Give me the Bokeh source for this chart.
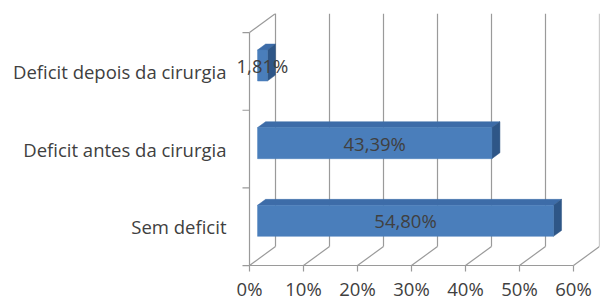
from bokeh.plotting import figure
from bokeh.models import Range1d, FixedTicker, PrintfTickFormatter, ColumnDataSource, LabelSet
from bokeh.core.properties import value
from bokeh.embed import file_html
from bokeh.resources import INLINE

# ---- data ----
categories = ["Sem deficit", "Deficit antes da cirurgia", "Deficit depois da cirurgia"]
values = [54.80, 43.39, 1.81]
value_labels = ["54,80%", "43,39%", "1,81%"]
x_ticks = [0, 10, 20, 30, 40, 50, 60]

# ---- 3D geometry (style) ----
XL = 3.89      # empty room left of the wall (percent units)
DX = 4.815     # depth offset in x (percent units)
DY = 0.2457    # depth offset in y (category units)
YB = 0.45      # room below the floor for the x labels (category units)
TK = 1.3       # category tick length (percent units)
F0, F1 = 0.31, 0.62   # bar front / back depth fraction
H = 0.2               # half bar height (category units)
FONT = "Open Sans"
FS = "18.5px"
TXT = "#404040"
GRID = "#9a9a9a"

n = len(categories)
p = figure(width=603, height=300, output_backend="svg", toolbar_location=None, title=None,
           x_range=Range1d(-XL, x_ticks[-1] + DX), y_range=Range1d(-YB, n + DY),
           min_border_left=228, min_border_right=4, min_border_top=13, min_border_bottom=0)
p.outline_line_color = None
p.xgrid.visible = False
p.ygrid.visible = False

# walls and floor
floor_x0 = [t for t in x_ticks]
floor_y0 = [0] * len(x_ticks)
floor_x1 = [t + DX for t in x_ticks]
floor_y1 = [DY] * len(x_ticks)
p.segment(floor_x0, floor_y0, floor_x1, floor_y1, line_color=GRID, line_width=1.2)
p.segment(floor_x1, floor_y1, floor_x1, [n + DY] * len(x_ticks), line_color=GRID, line_width=1.2)
p.segment([0], [n], [DX], [n + DY], line_color=GRID, line_width=1.2)
# front wall edge with category ticks
p.segment([0], [0], [0], [n], line_color=GRID, line_width=1.2)
bounds_y = list(range(n + 1))
p.segment([-TK] * len(bounds_y), bounds_y, [0] * len(bounds_y), bounds_y,
          line_color=GRID, line_width=1.2)

# bars
front_xs, front_ys, top_xs, top_ys, side_xs, side_ys = [], [], [], [], [], []
lx, ly = [], []
for i, v in enumerate(values):
    c = i + 0.5
    yb, yt = c - H, c + H
    ox0, oy0 = DX * F0, DY * F0
    ox1, oy1 = DX * F1, DY * F1
    front_xs.append([ox0, ox0 + v, ox0 + v, ox0])
    front_ys.append([yb + oy0, yb + oy0, yt + oy0, yt + oy0])
    top_xs.append([ox0, ox0 + v, ox1 + v, ox1])
    top_ys.append([yt + oy0, yt + oy0, yt + oy1, yt + oy1])
    side_xs.append([ox0 + v, ox1 + v, ox1 + v, ox0 + v])
    side_ys.append([yb + oy0, yb + oy1, yt + oy1, yt + oy0])
    lx.append(ox0 + v / 2)
    ly.append(c + oy0)

p.patches(top_xs, top_ys, fill_color="#3d6ca8", line_color="#3d6ca8", line_width=0.5)
p.patches(side_xs, side_ys, fill_color="#2e5687", line_color="#2e5687", line_width=0.5)
p.patches(front_xs, front_ys, fill_color="#4a7ebb", line_color="#4a7ebb", line_width=0.5)

src = ColumnDataSource(dict(x=lx, y=ly, t=value_labels))
p.add_layout(LabelSet(x="x", y="y", text="t", source=src, text_align="center",
                      text_baseline="middle", text_color=TXT, text_font=value(FONT),
                      text_font_size=FS))

# x axis drawn on the floor's front edge
xa = p.xaxis[0]
xa.fixed_location = 0
xa.ticker = FixedTicker(ticks=x_ticks)
xa.bounds = (x_ticks[0], x_ticks[-1])
xa.formatter = PrintfTickFormatter(format="%d%%")
xa.axis_line_color = GRID
xa.axis_line_width = 1.2
xa.major_tick_line_color = GRID
xa.major_tick_line_width = 1.2
xa.major_tick_out = 6
xa.major_tick_in = 0
xa.minor_tick_line_color = None
xa.major_label_text_font = FONT
xa.major_label_text_font_size = FS
xa.major_label_text_color = TXT
xa.major_label_standoff = 4

# y axis (labels only; wall edge and ticks drawn above)
ya = p.yaxis[0]
ya.ticker = FixedTicker(ticks=[i + 0.5 for i in range(n)], minor_ticks=[])
ya.major_label_overrides = {i + 0.5: c for i, c in enumerate(categories)}
ya.axis_line_color = None
ya.major_tick_line_color = None
ya.minor_tick_line_color = None
ya.major_tick_out = 0
ya.major_tick_in = 0
ya.minor_tick_out = 0
ya.minor_tick_in = 0
ya.major_label_text_font = FONT
ya.major_label_text_font_size = FS
ya.major_label_text_color = TXT
ya.major_label_standoff = 2

open("out.html", "w").write(file_html(p, INLINE))
